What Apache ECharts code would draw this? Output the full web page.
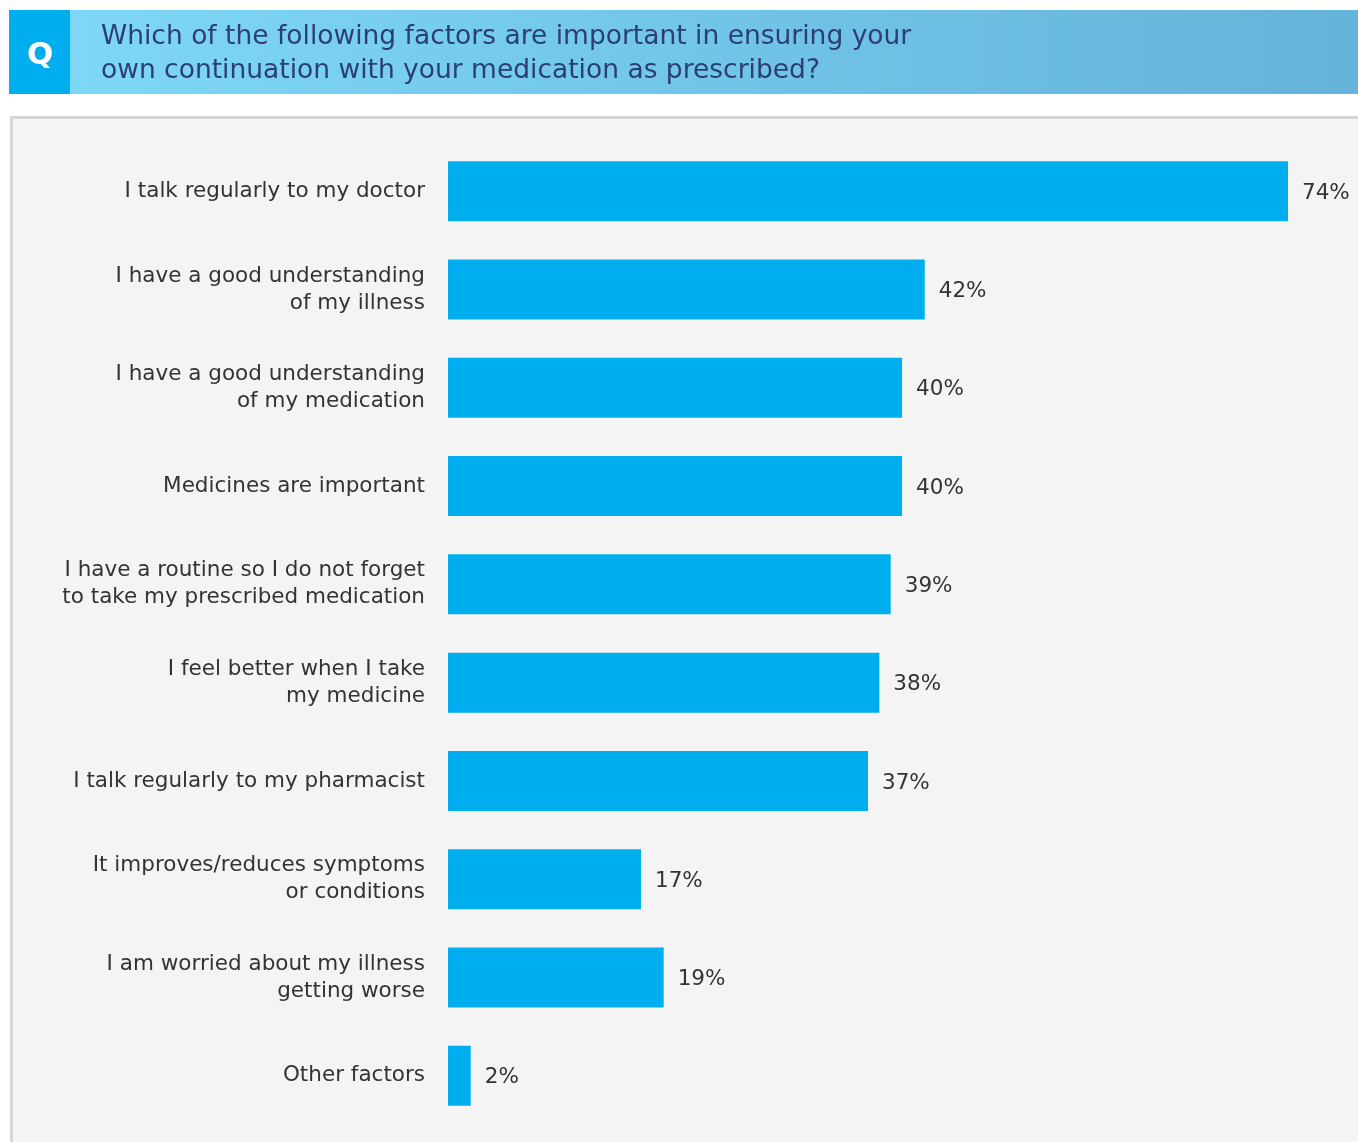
<!DOCTYPE html>
<html>
<head>
<meta charset="utf-8">
<script src="https://cdn.jsdelivr.net/npm/echarts@6/dist/echarts.min.js"></script>
<style>
  html, body { margin: 0; padding: 0; background: #ffffff; }
  #chart { width: 1358px; height: 1142px; }
</style>
</head>
<body>
<div id="chart"></div>
<script>
const categories = [
  'I talk regularly to my doctor',
  'I have a good understanding\nof my illness',
  'I have a good understanding\nof my medication',
  'Medicines are important',
  'I have a routine so I do not forget\nto take my prescribed medication',
  'I feel better when I take\nmy medicine',
  'I talk regularly to my pharmacist',
  'It improves/reduces symptoms\nor conditions',
  'I am worried about my illness\ngetting worse',
  'Other factors'
];
const values = [74, 42, 40, 40, 39, 38, 37, 17, 19, 2];
const questionText = 'Which of the following factors are important in ensuring your\nown continuation with your medication as prescribed?';

const FONT = '"DejaVu Sans", Verdana, sans-serif';
const chart = echarts.init(document.getElementById('chart'), null, { renderer: 'canvas' });

chart.setOption({
  backgroundColor: '#ffffff',
  animation: false,
  graphic: [
    // header band with gradient
    {
      type: 'rect', left: 9, top: 10, z: 0,
      shape: { width: 1349, height: 84 },
      style: {
        fill: new echarts.graphic.LinearGradient(0, 0, 1, 0, [
          { offset: 0, color: '#7fd9f6' },
          { offset: 1, color: '#65b3da' }
        ])
      }
    },
    // "Q" badge
    { type: 'rect', left: 9, top: 10, z: 1, shape: { width: 61, height: 84 }, style: { fill: '#00aeef' } },
    {
      type: 'text', left: 27, top: 40, z: 2,
      style: { text: 'Q', fill: '#ffffff', font: 'bold 31px ' + FONT }
    },
    // chart panel
    {
      type: 'rect', left: 10, top: 116, z: -1,
      shape: { width: 1360, height: 1040 },
      style: { fill: '#f4f4f4', stroke: '#d6d6d6', lineWidth: 3 }
    }
  ],
  title: {
    text: questionText,
    left: 96, top: 15,
    textStyle: { color: '#2b3f75', fontFamily: FONT, fontSize: 26.5, fontWeight: 'normal', lineHeight: 34 }
  },
  grid: { left: 448, right: 70, top: 142, bottom: 17, containLabel: false },
  xAxis: {
    type: 'value', min: 0, max: 74,
    show: false
  },
  yAxis: {
    type: 'category', inverse: true, data: categories,
    axisLine: { show: false }, axisTick: { show: false }, splitLine: { show: false },
    axisLabel: {
      margin: 23, color: '#333333', fontFamily: FONT, fontSize: 21.5, lineHeight: 27, align: 'right'
    }
  },
  series: [{
    type: 'bar', data: values, barWidth: '61%',
    itemStyle: { color: '#00aeef' },
    label: {
      show: true, position: 'right', distance: 14, offset: [0, 2], formatter: '{c}%',
      color: '#333333', fontFamily: FONT, fontSize: 21.5
    }
  }]
});
</script>
</body>
</html>
